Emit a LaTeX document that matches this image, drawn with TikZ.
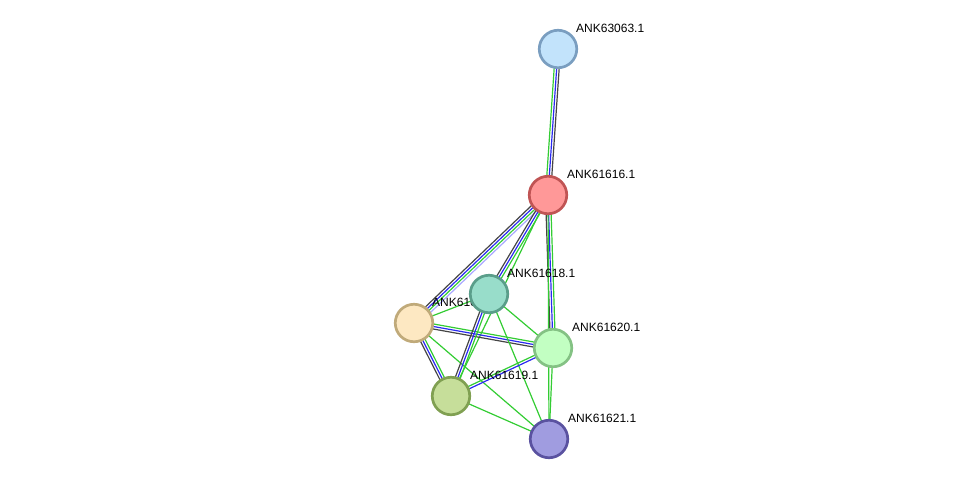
\documentclass[tikz,border=0pt]{standalone}
\usepackage{fontspec}
\setmainfont{Liberation Sans}
\usetikzlibrary{calc}
\pgfdeclarelayer{bg}
\pgfsetlayers{bg,main}
\definecolor{cgreen}{HTML}{33CC33}
\definecolor{cblue}{HTML}{2A2AF0}
\definecolor{cdark}{HTML}{454545}
\definecolor{clblue}{HTML}{A8A8FF}
\definecolor{fA}{HTML}{C2E3FB}\definecolor{bA}{HTML}{7A9EC0}
\definecolor{fB}{HTML}{FF9898}\definecolor{bB}{HTML}{C05454}
\definecolor{fC}{HTML}{FDE8C2}\definecolor{bC}{HTML}{C0AA7A}
\definecolor{fD}{HTML}{98DDCA}\definecolor{bD}{HTML}{5A9E8A}
\definecolor{fE}{HTML}{C2FFC2}\definecolor{bE}{HTML}{84C284}
\definecolor{fF}{HTML}{C6DE9A}\definecolor{bF}{HTML}{80A052}
\definecolor{fG}{HTML}{A09CE0}\definecolor{bG}{HTML}{5A52A0}
\tikzset{
  prot/.style={circle, line width=2.7pt, minimum size=37.5pt, inner sep=0pt},
  lab/.style={anchor=west, font=\fontsize{12}{14}\selectfont, inner sep=0pt, text=black},
  ed/.style={line width=1.2pt}
}
\newcommand\elink[4]{\draw[ed,#4] ($(#1.center)!#3!90:(#2.center)$) -- ($(#2.center)!#3!-90:(#1.center)$);}
\begin{document}
\begin{tikzpicture}[x=1pt,y=-1pt]
\useasboundingbox (0,0) rectangle (976,485);
% nodes
\node[prot, draw=bA, fill=fA] (n63063) at (558,49) {};
\node[lab] (l63063) at (576,28) {ANK63063.1};
\node[prot, draw=bB, fill=fB] (n61616) at (548,195) {};
\node[lab] (l61616) at (567,174) {ANK61616.1};
\node[prot, draw=bC, fill=fC] (n61617) at (414,323) {};
\node[lab] (l61617) at (432,302) {ANK61617.1};
\node[prot, draw=bD, fill=fD] (n61618) at (489,294) {};
\node[lab] (l61618) at (507,273) {ANK61618.1};
\node[prot, draw=bE, fill=fE] (n61620) at (553,348) {};
\node[lab] (l61620) at (572,327) {ANK61620.1};
\node[prot, draw=bF, fill=fF] (n61619) at (451,396) {};
\node[lab] (l61619) at (470,375) {ANK61619.1};
\node[prot, draw=bG, fill=fG] (n61621) at (549,439) {};
\node[lab] (l61621) at (568,418) {ANK61621.1};
% edges
\begin{pgfonlayer}{bg}
\elink{n63063}{n61616}{-2.5pt}{cgreen}
\elink{n63063}{n61616}{0pt}{cblue}
\elink{n63063}{n61616}{2.5pt}{cdark}
\elink{n61616}{n61617}{-3.75pt}{cdark}
\elink{n61616}{n61617}{-1.25pt}{cblue}
\elink{n61616}{n61617}{1.25pt}{cgreen}
\elink{n61616}{n61617}{3.75pt}{clblue}
\elink{n61616}{n61618}{-2.5pt}{cdark}
\elink{n61616}{n61618}{0pt}{cblue}
\elink{n61616}{n61618}{2.5pt}{cgreen}
\elink{n61616}{n61619}{0pt}{cgreen}
\elink{n61616}{n61620}{-2.5pt}{cdark}
\elink{n61616}{n61620}{0pt}{cblue}
\elink{n61616}{n61620}{2.5pt}{cgreen}
\elink{n61616}{n61621}{0pt}{cgreen}
\elink{n61617}{n61618}{0pt}{cgreen}
\elink{n61617}{n61620}{-2.5pt}{cdark}
\elink{n61617}{n61620}{0pt}{cblue}
\elink{n61617}{n61620}{2.5pt}{cgreen}
\elink{n61617}{n61619}{-2.5pt}{cdark}
\elink{n61617}{n61619}{0pt}{cblue}
\elink{n61617}{n61619}{2.5pt}{cgreen}
\elink{n61617}{n61621}{0pt}{cgreen}
\elink{n61618}{n61619}{-2.5pt}{cdark}
\elink{n61618}{n61619}{0pt}{cblue}
\elink{n61618}{n61619}{2.5pt}{cgreen}
\elink{n61618}{n61620}{0pt}{cgreen}
\elink{n61618}{n61621}{0pt}{cgreen}
\elink{n61619}{n61620}{-1.25pt}{cblue}
\elink{n61619}{n61620}{1.25pt}{cgreen}
\elink{n61619}{n61621}{0pt}{cgreen}
\elink{n61620}{n61621}{0pt}{cgreen}
\end{pgfonlayer}
\end{tikzpicture}
\end{document}
